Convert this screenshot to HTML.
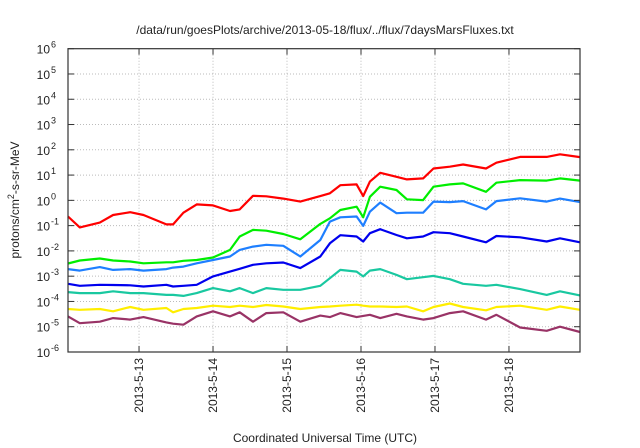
<!DOCTYPE html>
<html><head><meta charset="utf-8"><style>
body{margin:0;background:#fff;width:640px;height:448px;overflow:hidden}
svg{display:block;font-family:"Liberation Sans",sans-serif}
</style></head><body>
<svg id="chart" width="640" height="448">
<text x="325" y="34" font-size="12" text-anchor="middle" fill="#222">/data/run/goesPlots/archive/2013-05-18/flux/../flux/7daysMarsFluxes.txt</text>
<text transform="translate(19,200) rotate(-90)" font-size="12" text-anchor="middle" fill="#222">protons/cm<tspan dy="-5" font-size="9">2</tspan><tspan dy="5">-s-sr-MeV</tspan></text>
<text x="325" y="442" font-size="12" text-anchor="middle" fill="#222">Coordinated Universal Time (UTC)</text>
<g id="grid"></g><g id="series"></g><g id="axes"></g>
</svg>
<script>
const times=[12.04,12.20,12.47,12.65,12.88,13.06,13.37,13.46,13.60,13.78,14.00,14.23,14.36,14.54,14.72,14.95,15.18,15.45,15.58,15.72,15.94,16.03,16.12,16.26,16.48,16.62,16.84,16.98,17.20,17.38,17.69,17.83,18.15,18.51,18.69,18.96];
const dayTicks=[13,14,15,16,17,18];
const dayLabels=["2013-5-13","2013-5-14","2013-5-15","2013-5-16","2013-5-17","2013-5-18"];
const yTickExps=[-6,-5,-4,-3,-2,-1,0,1,2,3,4,5,6];
const logRed=[-0.64,-1.07,-0.88,-0.58,-0.47,-0.58,-0.95,-0.95,-0.49,-0.16,-0.2,-0.42,-0.36,0.18,0.16,0.07,-0.05,0.17,0.28,0.6,0.63,0.17,0.74,1.09,0.93,0.83,0.87,1.26,1.33,1.42,1.26,1.49,1.72,1.72,1.82,1.71];
const logGreen=[-2.5,-2.38,-2.3,-2.38,-2.42,-2.49,-2.45,-2.45,-2.39,-2.36,-2.26,-1.96,-1.43,-1.17,-1.2,-1.33,-1.54,-0.93,-0.71,-0.38,-0.25,-0.67,0.14,0.54,0.41,0.04,0.01,0.54,0.63,0.67,0.34,0.7,0.8,0.78,0.87,0.78];
const logLightBlue=[-2.72,-2.78,-2.64,-2.75,-2.72,-2.78,-2.72,-2.66,-2.62,-2.49,-2.36,-2.22,-1.96,-1.83,-1.76,-1.8,-2.22,-1.57,-0.84,-0.67,-0.64,-1.01,-0.45,-0.09,-0.51,-0.49,-0.49,-0.05,-0.07,-0.03,-0.36,-0.03,0.08,-0.05,0.07,-0.07];
const logBlue=[-3.3,-3.38,-3.34,-3.35,-3.36,-3.41,-3.34,-3.41,-3.38,-3.34,-3.01,-2.82,-2.71,-2.55,-2.49,-2.46,-2.68,-2.22,-1.7,-1.38,-1.43,-1.63,-1.3,-1.14,-1.37,-1.5,-1.43,-1.26,-1.3,-1.43,-1.66,-1.41,-1.46,-1.63,-1.5,-1.66];
const logTeal=[-3.63,-3.67,-3.67,-3.6,-3.67,-3.67,-3.74,-3.74,-3.78,-3.67,-3.47,-3.6,-3.47,-3.67,-3.47,-3.54,-3.54,-3.38,-3.08,-2.75,-2.82,-3.01,-2.78,-2.72,-2.95,-3.12,-3.04,-2.99,-3.12,-3.3,-3.38,-3.34,-3.51,-3.74,-3.6,-3.76];
const logYellow=[-4.3,-4.33,-4.3,-4.39,-4.22,-4.33,-4.26,-4.43,-4.3,-4.26,-4.17,-4.22,-4.17,-4.22,-4.14,-4.2,-4.3,-4.22,-4.2,-4.17,-4.13,-4.17,-4.2,-4.2,-4.22,-4.2,-4.39,-4.22,-4.08,-4.22,-4.35,-4.22,-4.17,-4.33,-4.2,-4.33];
const logPurple=[-4.59,-4.86,-4.8,-4.66,-4.72,-4.62,-4.83,-4.88,-4.92,-4.59,-4.39,-4.59,-4.43,-4.8,-4.46,-4.43,-4.8,-4.56,-4.62,-4.46,-4.62,-4.57,-4.53,-4.66,-4.49,-4.59,-4.72,-4.66,-4.46,-4.39,-4.72,-4.53,-5.03,-5.16,-5.0,-5.21];
const seriesList=[[logPurple,"#993366","series-purple"],[logYellow,"#ffee00","series-yellow"],[logTeal,"#19c8a0","series-teal"],[logBlue,"#0000ee","series-blue"],[logLightBlue,"#1e7fff","series-light-blue"],[logGreen,"#00ee00","series-green"],[logRed,"#ff0000","series-red"]];
const L=68,R=580,T=48.7,B=352,t0=12.04,t1=18.96;
const xS=t=>L+(t-t0)/(t1-t0)*(R-L);
const yS=e=>B-(e+6)/12*(B-T);
const NS="http://www.w3.org/2000/svg";
const grid=document.getElementById('grid'),axes=document.getElementById('axes'),ser=document.getElementById('series');
function mk(tag,attrs,parent){const e=document.createElementNS(NS,tag);for(const k in attrs)e.setAttribute(k,attrs[k]);parent.appendChild(e);return e;}
yTickExps.forEach(e=>{const y=yS(e);
 if(e>-6&&e<6){const g=mk('line',{x1:L,x2:R,y1:y,y2:y,stroke:'#bbb','stroke-dasharray':'1,2'},grid);
 
 }
 mk('line',{x1:L,x2:L+6,y1:y,y2:y,stroke:'#333'},axes);mk('line',{x1:R-6,x2:R,y1:y,y2:y,stroke:'#333'},axes);
 const tx=mk('text',{x:50,y:y+5,'font-size':12,'text-anchor':'end',fill:'#222'},axes);
 
 
 tx.textContent='10';const sp=mk('tspan',{dy:-6,'font-size':9},tx);sp.textContent=String(e);
 sp.setAttribute('x',51);sp.setAttribute('text-anchor','start');
});
dayTicks.forEach((d,i)=>{const x=xS(d);
 const g=mk('line',{x1:x,x2:x,y1:T,y2:B,stroke:'#bbb','stroke-dasharray':'1,2'},grid);
 
 
 mk('line',{x1:x,x2:x,y1:B-6,y2:B,stroke:'#333'},axes);mk('line',{x1:x,x2:x,y1:T,y2:T+6,stroke:'#333'},axes);
 const tx=mk('text',{transform:`translate(${x+4},${B+6}) rotate(-90)`,'font-size':12,'text-anchor':'end',fill:'#222'},axes);
 
 
 tx.textContent=dayLabels[i];
});
const fr=mk('rect',{x:L,y:T,width:R-L,height:B-T,fill:'none',stroke:'#333','stroke-width':1.2},axes);


seriesList.forEach(([vals,col,name])=>{
 const p=mk('polyline',{points:vals.map((v,i)=>xS(times[i]).toFixed(1)+','+yS(v).toFixed(1)).join(' '),fill:'none',stroke:col,'stroke-width':2.2,'stroke-linejoin':'round'},ser);
 
 
});
</script>
</body></html>
